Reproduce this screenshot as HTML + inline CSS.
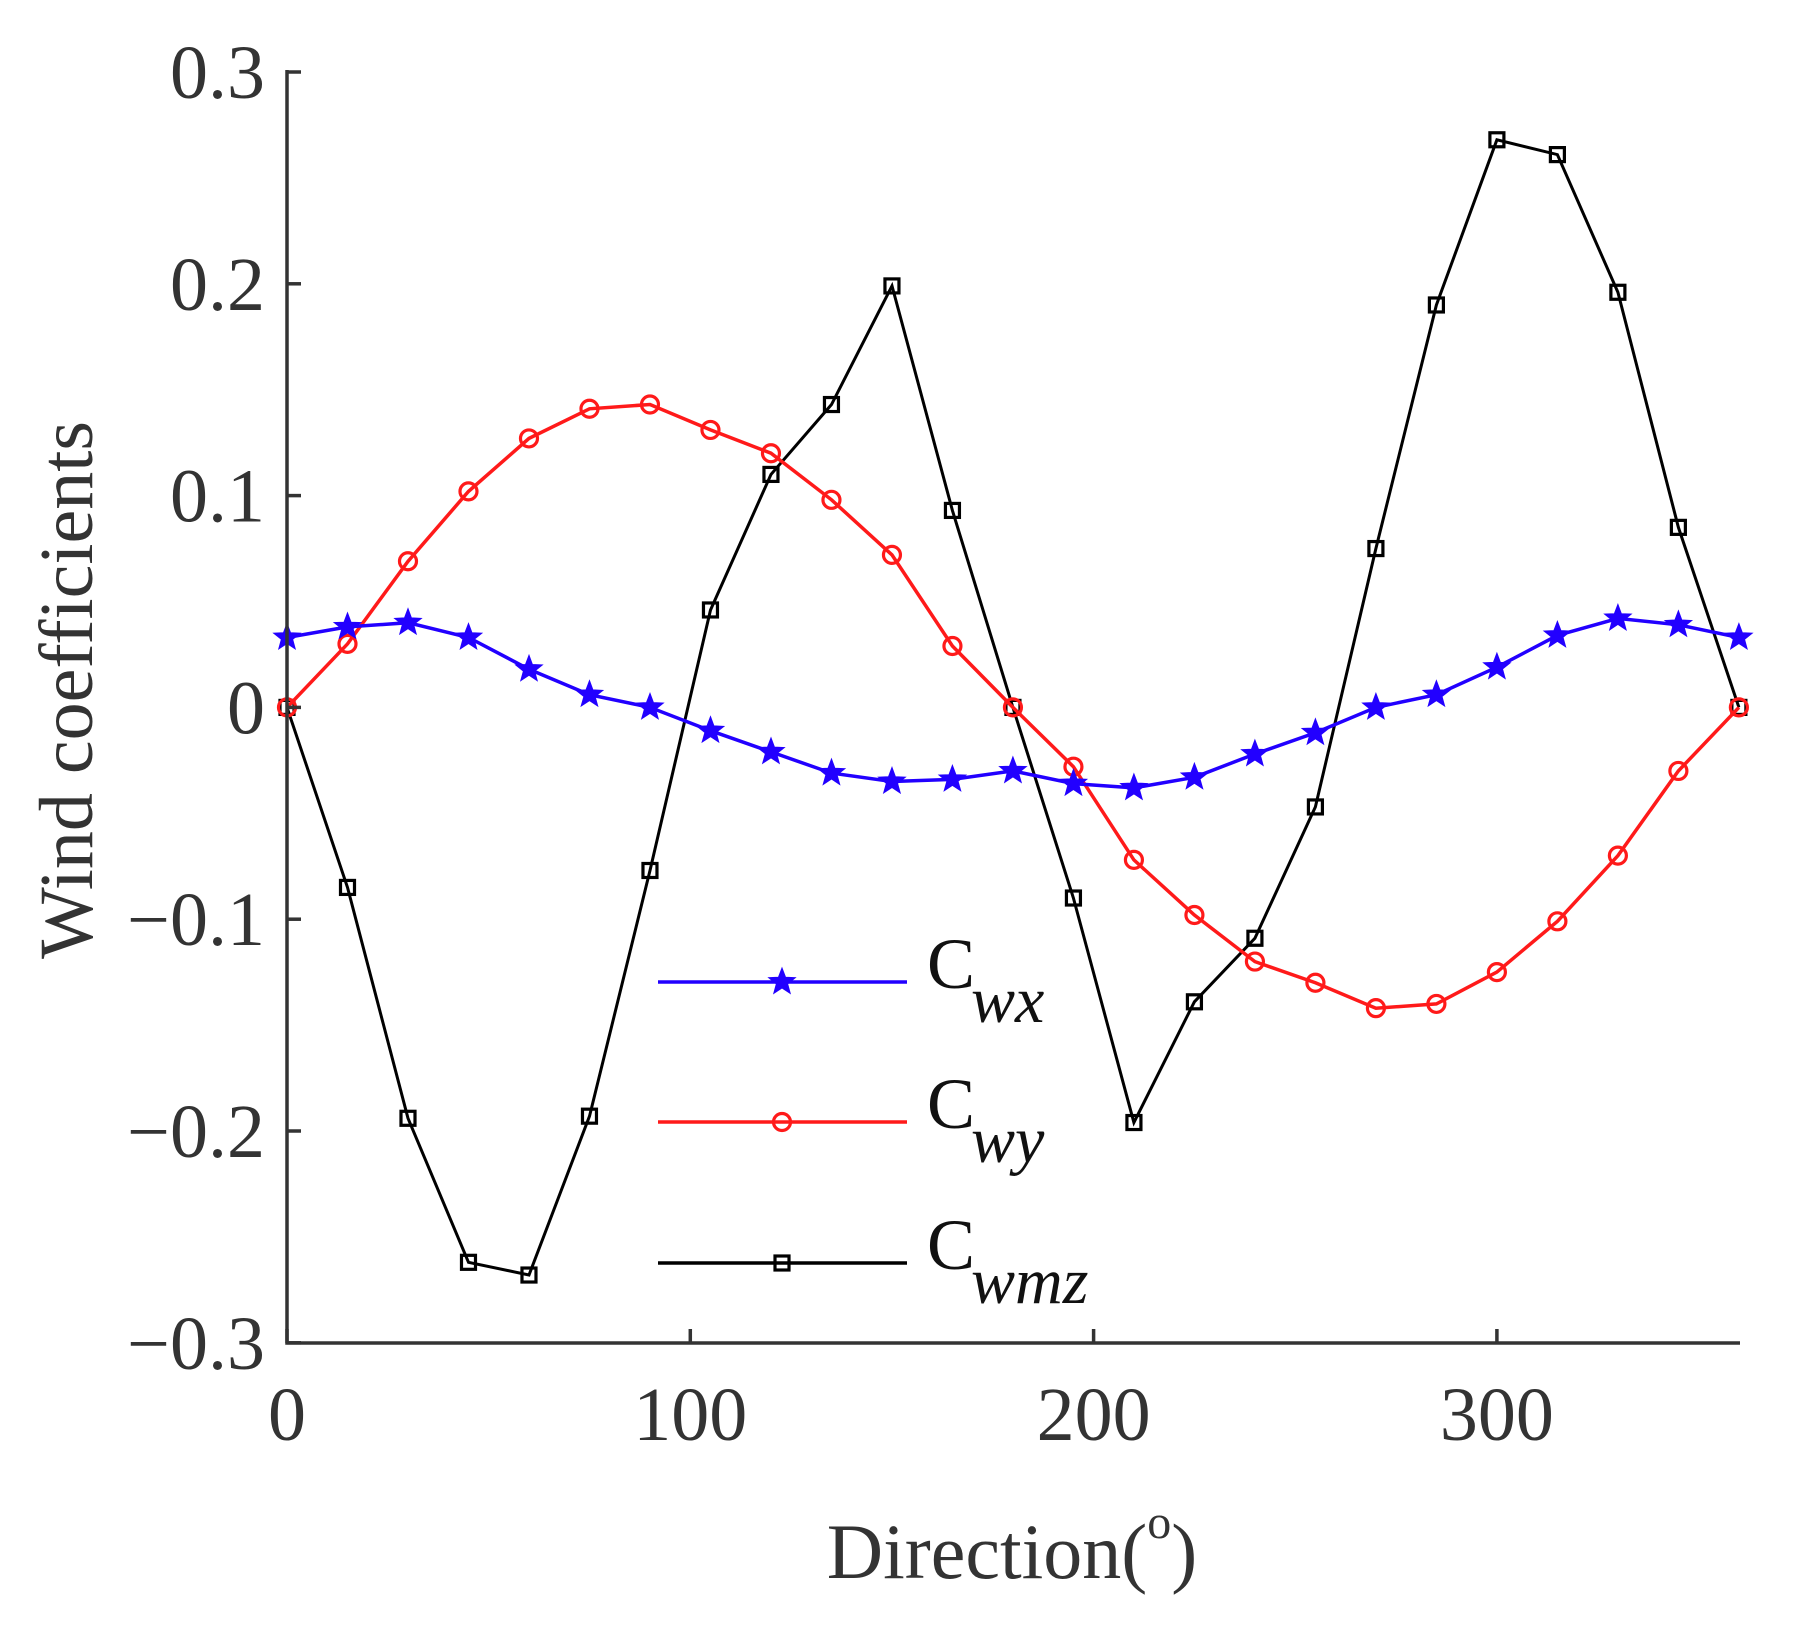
<!DOCTYPE html>
<html><head><meta charset="utf-8"><style>
html,body{margin:0;padding:0;background:#fff;}
svg{display:block;}
</style></head><body>
<svg id="s" width="1798" height="1637" viewBox="0 0 1798 1637" xmlns="http://www.w3.org/2000/svg" font-family="'Liberation Serif', serif">
<rect width="1798" height="1637" fill="#fff"/>
<g id="plot"></g>
<g stroke="#333" stroke-width="3.5" fill="none">
<path d="M287,70 V1343 H1740"/>
</g>
<g id="ticks" stroke="#333" stroke-width="3.5"></g>
<g font-size="76" fill="#333" text-anchor="end" id="yl"></g>
<g font-size="76" fill="#333" text-anchor="middle" id="xl"></g>
<text x="1012" y="1578" font-size="78" fill="#333" text-anchor="middle">Direction(<tspan font-size="48" dy="-40">o</tspan><tspan dy="40">)</tspan></text>
<text transform="translate(92,690) rotate(-90)" font-size="76" fill="#333" text-anchor="middle">Wind coefficients</text>
<g id="leg"></g>
<g font-size="72" fill="#111">
<text x="927" y="988">C<tspan font-style="italic" font-size="66" dx="-4" dy="34">wx</tspan></text>
<text x="927" y="1128">C<tspan font-style="italic" font-size="66" dx="-4" dy="34">wy</tspan></text>
<text x="927" y="1269">C<tspan font-style="italic" font-size="66" dx="-4" dy="34">wmz</tspan></text>
</g>
</svg>
<script>
var NS="http://www.w3.org/2000/svg";
function X(d){return 287+d*4.033;}
function Y(v){return 72+(0.3-v)*2118;}
function el(t,a,p){var e=document.createElementNS(NS,t);for(var k in a)e.setAttribute(k,a[k]);p.appendChild(e);return e;}
var tk=document.getElementById('ticks'),yl=document.getElementById('yl'),xl=document.getElementById('xl');
[0.3,0.2,0.1,0,-0.1,-0.2,-0.3].forEach(function(v){var y=Y(v);el('line',{x1:287,x2:301,y1:y,y2:y},tk);
var t=el('text',{x:265,y:y+26},yl);t.textContent=(v==0?'0':(v<0?'\u2212'+(-v).toFixed(1):v.toFixed(1)));});
[0,100,200,300].forEach(function(d){var x=X(d);el('line',{x1:x,x2:x,y1:1343,y2:1329},tk);
var t=el('text',{x:x,y:1440},xl);t.textContent=d;});
var wx=[0.033,0.038,0.04,0.033,0.018,0.006,0,-0.011,-0.021,-0.031,-0.035,-0.034,-0.03,-0.036,-0.038,-0.033,-0.022,-0.012,0,0.006,0.019,0.034,0.042,0.039,0.033];
var wy=[0,0.03,0.069,0.102,0.127,0.141,0.143,0.131,0.12,0.098,0.072,0.029,0,-0.028,-0.072,-0.098,-0.12,-0.13,-0.142,-0.14,-0.125,-0.101,-0.07,-0.03,0];
var mz=[0,-0.085,-0.194,-0.262,-0.268,-0.193,-0.077,0.046,0.11,0.143,0.199,0.093,0,-0.09,-0.196,-0.139,-0.109,-0.047,0.075,0.19,0.268,0.261,0.196,0.085,0];
var P=document.getElementById('plot'),L=document.getElementById('leg');
function star(cx,cy,r,col,g){var p='';for(var i=0;i<10;i++){var a=-Math.PI/2+i*Math.PI/5,rr=i%2?r*0.42:r;p+=(i?'L':'M')+(cx+rr*Math.cos(a)).toFixed(1)+','+(cy+rr*Math.sin(a)).toFixed(1);}el('path',{d:p+'Z',fill:col,stroke:col,'stroke-width':1},g);}
function mark(type,x,y,col,g){
 if(type=='s')star(x,y,14,col,g);
 else if(type=='c')el('circle',{cx:x,cy:y,r:8.5,fill:'none',stroke:col,'stroke-width':3.2},g);
 else el('rect',{x:x-7,y:y-7,width:14,height:14,fill:'none',stroke:col,'stroke-width':3.2},g);}
function series(d,col,type,w){var p='';d.forEach(function(v,i){p+=(i?'L':'M')+X(i*15).toFixed(1)+','+Y(v).toFixed(1);});
el('path',{d:p,fill:'none',stroke:col,'stroke-width':w},P);d.forEach(function(v,i){mark(type,X(i*15),Y(v),col,P);});}
series(mz,'#000','q',3);
series(wy,'#ff1a1a','c',3.5);
series(wx,'#2200ff','s',3.5);
[[982,'#2200ff','s'],[1122,'#ff1a1a','c'],[1263,'#000','q']].forEach(function(r){el('line',{x1:658,x2:907,y1:r[0],y2:r[0],stroke:r[1],'stroke-width':3.5},L);mark(r[2],782,r[0],r[1],L);});
</script>
</body></html>
